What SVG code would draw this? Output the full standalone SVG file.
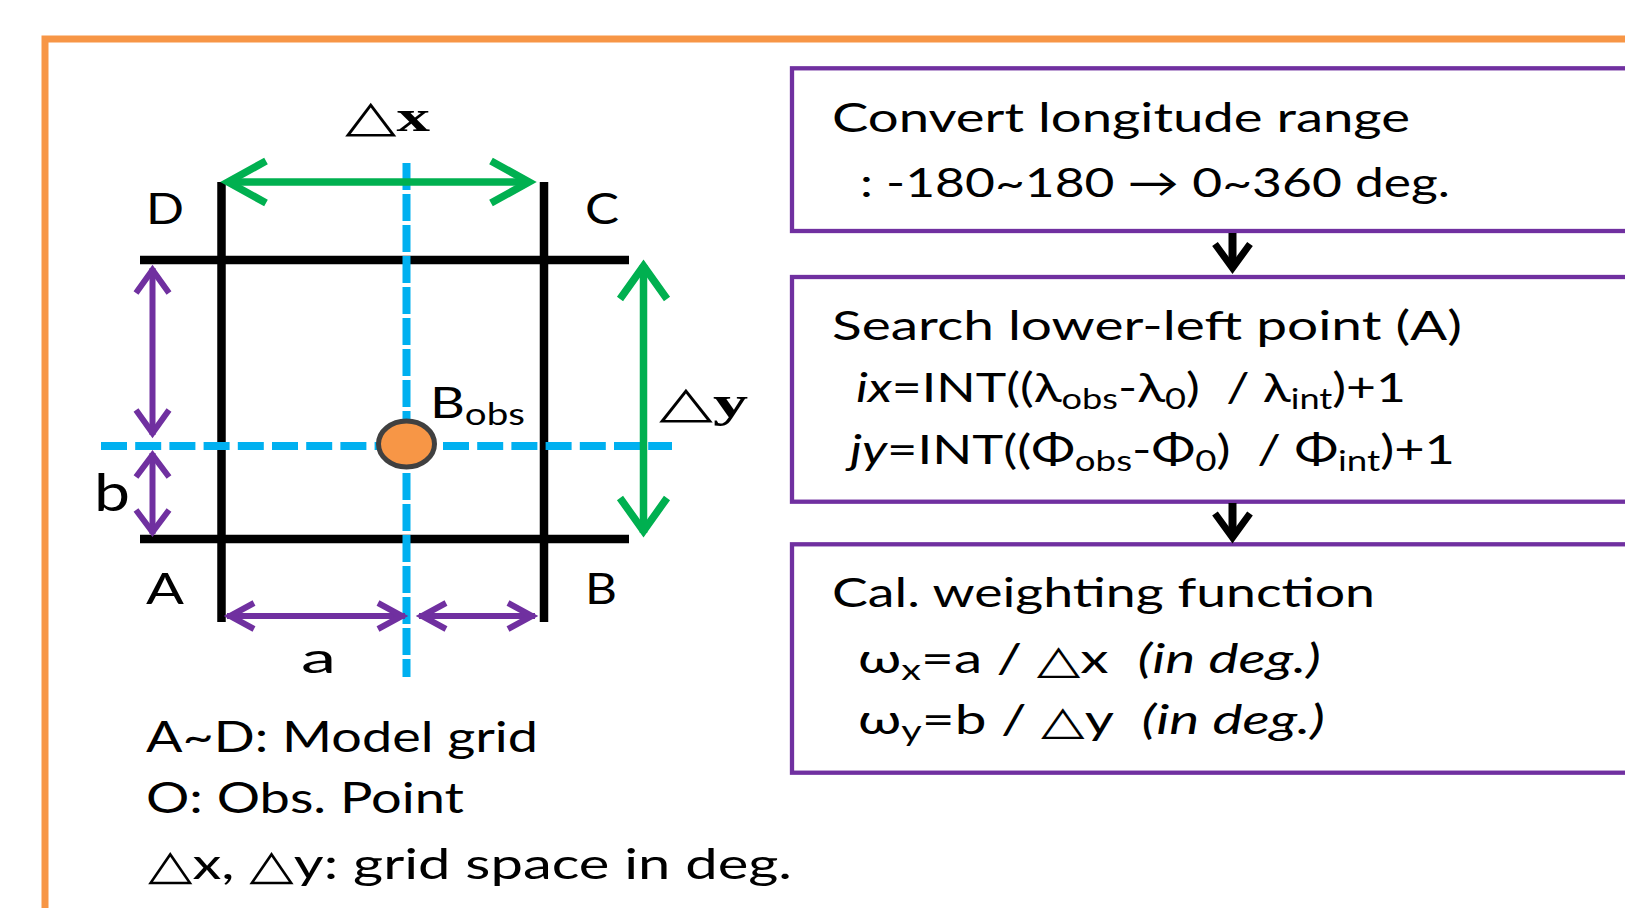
<svg xmlns="http://www.w3.org/2000/svg" width="1625" height="908" viewBox="0 0 1625 908">
<style>
.t{font-family:Lato,"Open Sans","DejaVu Sans",sans-serif;fill:#000}
.s{font-family:"Liberation Serif","DejaVu Serif",serif;font-weight:bold;fill:#000}
.box{fill:#fff;stroke:#7030A0;stroke-width:4.3}
.blk{stroke:#000;stroke-width:8.5;fill:none}
.blue{stroke:#00B0F0;stroke-width:8;fill:none}
.grn{stroke:#00B050;stroke-width:7.5;fill:none;stroke-linejoin:miter;stroke-miterlimit:10}
.pur{stroke:#7030A0;stroke-width:6;fill:none;stroke-linejoin:miter;stroke-miterlimit:10}
.conn{stroke:#000;fill:none;stroke-linejoin:miter;stroke-miterlimit:10}
.it{font-style:italic}
.pre{white-space:pre}
</style>
<rect width="1625" height="908" fill="#fff"/>
<rect id="frame" x="45" y="39" width="1700" height="1000" fill="none" stroke="#F79646" stroke-width="7"/>

<g id="grid-diagram">
  <g id="grid-lines">
    <line class="blk" x1="140" y1="260" x2="629" y2="260"/>
    <line class="blk" x1="140" y1="539" x2="629" y2="539"/>
    <line class="blue" x1="406.5" y1="163" x2="406.5" y2="677" stroke-dasharray="27 4"/>
    <line class="blk" x1="221.5" y1="182" x2="221.5" y2="622"/>
    <line class="blk" x1="544" y1="182" x2="544" y2="622"/>
    <line class="blue" x1="101" y1="446" x2="672" y2="446" stroke-dasharray="26 8.2"/>
  </g>
  <ellipse id="obs-point" cx="406.5" cy="444" rx="28" ry="23" fill="#F79646" stroke="#404040" stroke-width="5"/>
  <g id="dx-arrow">
    <line class="grn" x1="228" y1="182" x2="529" y2="182"/>
    <polyline class="grn" points="266,161 228,182 266,203"/>
    <polyline class="grn" points="491,161 529,182 491,203"/>
  </g>
  <g id="dy-arrow">
    <line class="grn" x1="643.5" y1="265" x2="643.5" y2="533"/>
    <polyline class="grn" points="620,299 643.5,266 667,299"/>
    <polyline class="grn" points="620,498 643.5,531 667,498"/>
  </g>
  <g id="b-arrows">
    <line class="pur" x1="152.5" y1="268" x2="152.5" y2="435"/>
    <polyline class="pur" points="136,293 152.5,270 169,293"/>
    <polyline class="pur" points="136,410 152.5,433 169,410"/>
    <line class="pur" x1="152.5" y1="453" x2="152.5" y2="534"/>
    <polyline class="pur" points="136,477 152.5,455 169,477"/>
    <polyline class="pur" points="136,510 152.5,532 169,510"/>
  </g>
  <g id="a-arrows">
    <line class="pur" x1="227" y1="616" x2="405" y2="616"/>
    <polyline class="pur" points="254,603 230,616 254,629"/>
    <polyline class="pur" points="378,603 402,616 378,629"/>
    <line class="pur" x1="419" y1="616" x2="535" y2="616"/>
    <polyline class="pur" points="446,603 422,616 446,629"/>
    <polyline class="pur" points="508,603 532,616 508,629"/>
  </g>
  <g id="grid-labels">
    <text class="s" x="345" y="130.7" font-size="44" textLength="85" lengthAdjust="spacingAndGlyphs">△x</text>
    <text class="t" x="146" y="224.3" font-size="42" textLength="38" lengthAdjust="spacingAndGlyphs">D</text>
    <text class="t" x="585" y="224.3" font-size="42" textLength="34" lengthAdjust="spacingAndGlyphs">C</text>
    <text class="t" x="146" y="604" font-size="42" textLength="38" lengthAdjust="spacingAndGlyphs">A</text>
    <text class="t" x="585" y="604" font-size="42" textLength="32" lengthAdjust="spacingAndGlyphs">B</text>
    <text class="t" x="430" y="418.3" font-size="42" textLength="95" lengthAdjust="spacingAndGlyphs">B<tspan font-size="30" dy="7">obs</tspan></text>
    <text class="s" x="659" y="417.3" font-size="44" textLength="89" lengthAdjust="spacingAndGlyphs">△y</text>
    <text class="t" x="94" y="510.7" font-size="52" textLength="36" lengthAdjust="spacingAndGlyphs">b</text>
    <text class="t" x="301" y="673.3" font-size="43" textLength="35" lengthAdjust="spacingAndGlyphs">a</text>
  </g>
  <g id="legend">
    <text class="t" x="146" y="751.7" font-size="42" textLength="392" lengthAdjust="spacingAndGlyphs">A~D: Model grid</text>
    <text class="t" x="146" y="813.3" font-size="42" textLength="318" lengthAdjust="spacingAndGlyphs">O: Obs. Point</text>
    <text class="t" x="148" y="879.3" font-size="42" textLength="644" lengthAdjust="spacingAndGlyphs">△x, △y: grid space in deg.</text>
  </g>
</g>

<g id="step1">
  <rect class="box" x="792" y="68.3" width="900" height="162.7"/>
  <text class="t" x="832" y="131.7" font-size="40" textLength="578" lengthAdjust="spacingAndGlyphs">Convert longitude range</text>
  <text class="t" x="860" y="196.7" font-size="40" textLength="590" lengthAdjust="spacingAndGlyphs">: -180~180 → 0~360 deg.</text>
</g>
<g id="step2">
  <rect class="box" x="792" y="277" width="900" height="224.7"/>
  <text class="t" x="832" y="340" font-size="40" textLength="630" lengthAdjust="spacingAndGlyphs">Search lower-left point (A)</text>
  <text class="t pre" x="856" y="401.7" font-size="40" textLength="550" lengthAdjust="spacingAndGlyphs"><tspan class="it">ix</tspan>=INT((λ<tspan font-size="28" dy="7">obs</tspan><tspan dy="-7">-λ</tspan><tspan font-size="28" dy="7">0</tspan><tspan dy="-7">)  / λ</tspan><tspan font-size="28" dy="7">int</tspan><tspan dy="-7">)+1</tspan></text>
  <text class="t pre" x="850" y="464" font-size="40" textLength="605" lengthAdjust="spacingAndGlyphs"><tspan class="it">jy</tspan>=INT((Φ<tspan font-size="28" dy="7">obs</tspan><tspan dy="-7">-Φ</tspan><tspan font-size="28" dy="7">0</tspan><tspan dy="-7">)  / Φ</tspan><tspan font-size="28" dy="7">int</tspan><tspan dy="-7">)+1</tspan></text>
</g>
<g id="step3">
  <rect class="box" x="792" y="544.3" width="900" height="228.4"/>
  <text class="t" x="832" y="606.7" font-size="40" textLength="543" lengthAdjust="spacingAndGlyphs">Cal. weighting function</text>
  <text class="t pre" x="858" y="672.7" font-size="40" textLength="463" lengthAdjust="spacingAndGlyphs">ω<tspan font-size="28" dy="7">x</tspan><tspan dy="-7">=a / △x  </tspan><tspan class="it">(in deg.)</tspan></text>
  <text class="t pre" x="858" y="734" font-size="40" textLength="467" lengthAdjust="spacingAndGlyphs">ω<tspan font-size="28" dy="7">y</tspan><tspan dy="-7">=b / △y  </tspan><tspan class="it">(in deg.)</tspan></text>
</g>

<g id="connectors">
  <line class="conn" x1="1232.5" y1="233" x2="1232.5" y2="268" stroke-width="8"/>
  <polyline class="conn" stroke-width="7" points="1215,244 1232.5,268 1250,244"/>
  <line class="conn" x1="1232.5" y1="503" x2="1232.5" y2="537" stroke-width="8"/>
  <polyline class="conn" stroke-width="7" points="1215,513.5 1232.5,537.5 1250,513.5"/>
</g>
</svg>
